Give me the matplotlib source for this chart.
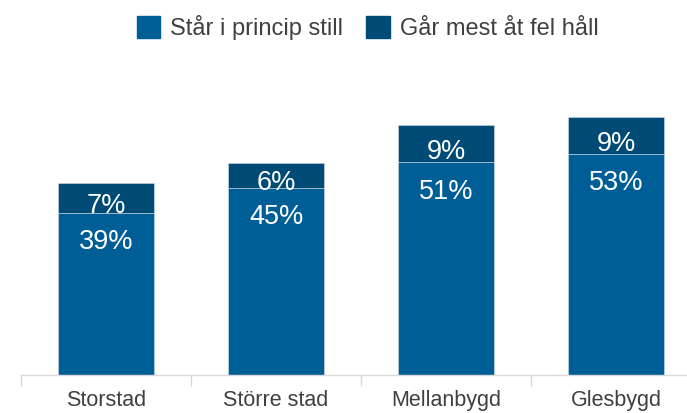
import matplotlib.pyplot as plt
from matplotlib.patches import Patch
import numpy as np

plt.rcParams['font.family'] = ['Liberation Sans', 'DejaVu Sans']

categories = ['Storstad', 'Större stad', 'Mellanbygd', 'Glesbygd']
still = [39, 45, 51, 53]        # Står i princip still
wrong_way = [7, 6, 9, 9]        # Går mest åt fel håll
series_names = ['Står i princip still', 'Går mest åt fel håll']

c_still = '#005E96'
c_wrong = '#004A76'
grey = '#404040'

fig = plt.figure(figsize=(6.87, 4.13), dpi=100)
# axes run a little past the right edge of the figure
ax = fig.add_axes([21 / 687, 38 / 413, 680 / 687, 375 / 413])

x = np.arange(len(categories))
w = 0.57
ax.bar(x, still, w, color=c_still, edgecolor='#d0dde8', linewidth=0.4)
ax.bar(x, wrong_way, w, bottom=still, color=c_wrong, edgecolor='#d0dde8', linewidth=0.4)

for xi, s, t in zip(x, still, wrong_way):
    ax.text(xi, s - 7, f'{s}%', ha='center', va='center', color='white', fontsize=19.5)
    ax.text(xi, s + t / 2 - 2, f'{t}%', ha='center', va='center', color='white', fontsize=19.5)

ax.set_xlim(-0.5, 3.5)
ax.set_ylim(0, 90)
ax.set_yticks([])
ax.set_xticks(x)
ax.set_xticklabels(categories, fontsize=15.5, color=grey)
ax.set_xticks(np.arange(-0.5, 4, 1), minor=True)
ax.tick_params(axis='x', which='major', length=0, pad=11)
ax.tick_params(axis='x', which='minor', length=8, color='#d9d9d9', width=1)
for s in ['top', 'right', 'left']:
    ax.spines[s].set_visible(False)
ax.spines['bottom'].set_color('#d9d9d9')
ax.spines['bottom'].set_linewidth(1)

handles = [Patch(color=c_still), Patch(color=c_wrong)]
fig.legend(handles, series_names, loc='upper center', bbox_to_anchor=(0.535, 1.015),
           ncol=2, frameon=False, fontsize=17, handlelength=1.0, handleheight=1.0,
           handletextpad=0.4, columnspacing=1.0, labelcolor=grey)

fig.savefig('out.png', dpi=100)
